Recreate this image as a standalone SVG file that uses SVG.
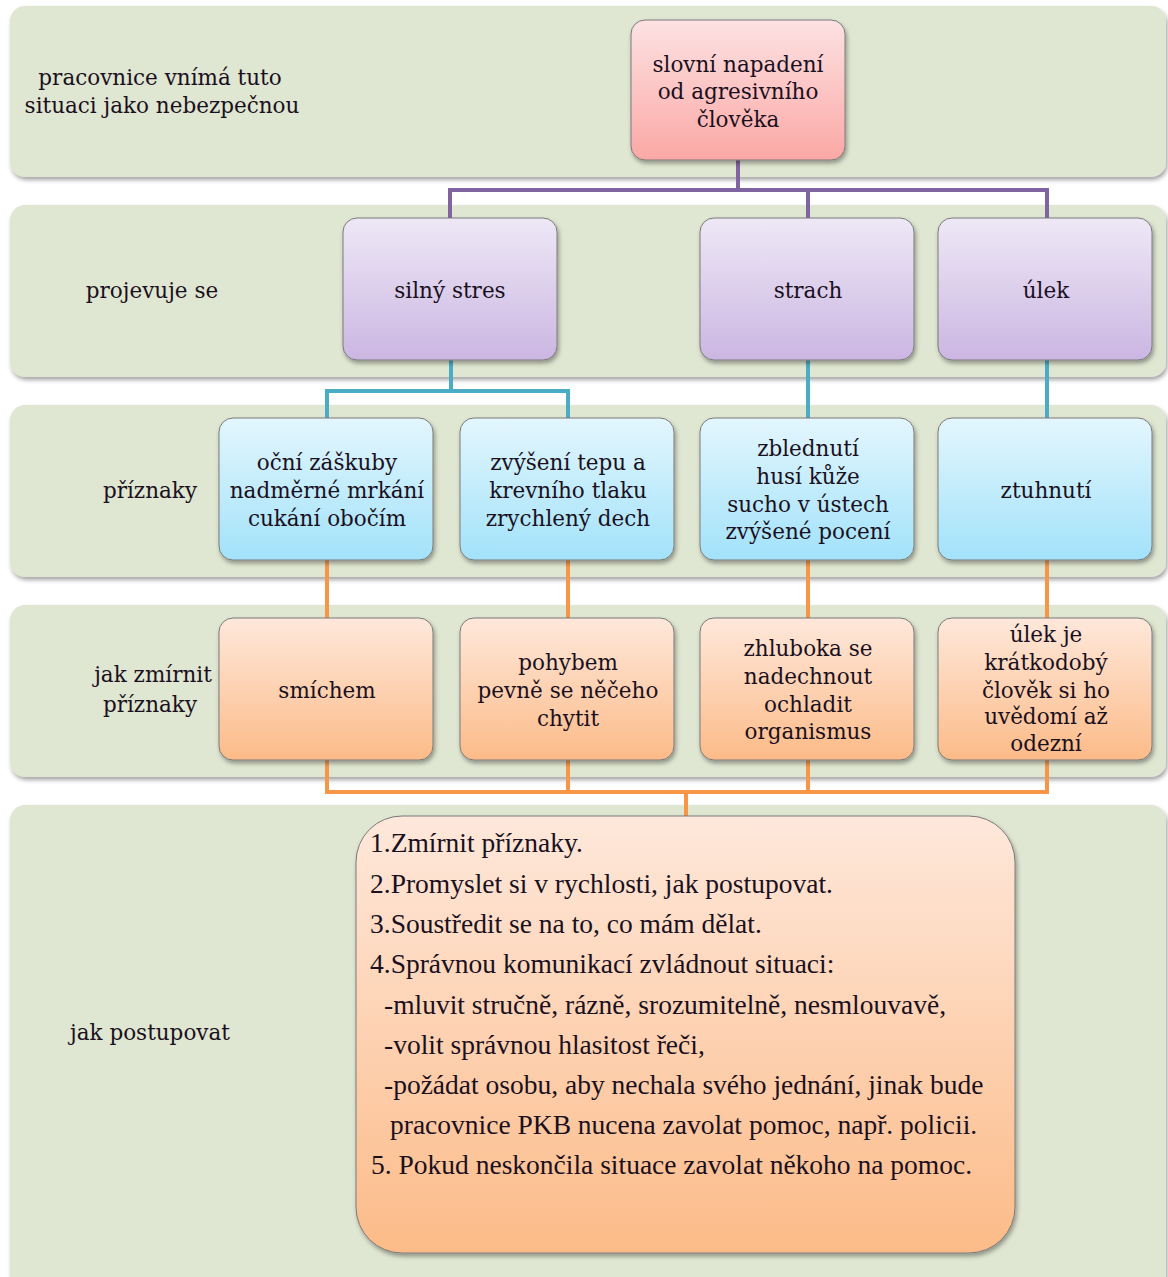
<svg xmlns="http://www.w3.org/2000/svg" width="1168" height="1277" viewBox="0 0 1168 1277">
  <defs>
    <linearGradient id="gRed" x1="0" y1="0" x2="0" y2="1">
      <stop offset="0" stop-color="#fde2e3"/>
      <stop offset="1" stop-color="#fba8a5"/>
    </linearGradient>
    <linearGradient id="gPurple" x1="0" y1="0" x2="0" y2="1">
      <stop offset="0" stop-color="#eee8f6"/>
      <stop offset="1" stop-color="#cbb6e2"/>
    </linearGradient>
    <linearGradient id="gBlue" x1="0" y1="0" x2="0" y2="1">
      <stop offset="0" stop-color="#e3f6fd"/>
      <stop offset="1" stop-color="#a2e2fa"/>
    </linearGradient>
    <linearGradient id="gOrange" x1="0" y1="0" x2="0" y2="1">
      <stop offset="0" stop-color="#fee8db"/>
      <stop offset="1" stop-color="#fcbb88"/>
    </linearGradient>
    <filter id="shadow" x="-10%" y="-10%" width="120%" height="130%">
      <feDropShadow dx="1.5" dy="3" stdDeviation="2" flood-color="#000" flood-opacity="0.35"/>
    </filter>
  </defs>
  <style>
    .band { fill: #dfe6d1; filter: url(#shadow); }
    .node { stroke: #7a7a7a; stroke-width: 1; filter: url(#shadow); }
    .lbl { font-family: "DejaVu Serif", "Liberation Serif", serif; font-size: 21.5px; fill: #1a1020; text-anchor: middle; }
    .body { font-family: "Liberation Serif", "Times New Roman", serif; font-size: 27.5px; fill: #1a1020; }
    .conn { fill: none; stroke-width: 4; stroke-linejoin: miter; }
  </style>

  <rect width="1168" height="1277" fill="#ffffff"/>

  <!-- horizontal bands -->
  <g id="bands">
    <rect class="band" x="10" y="6" width="1156" height="171" rx="15"/>
    <rect class="band" x="10" y="205" width="1156" height="172" rx="15"/>
    <rect class="band" x="10" y="405" width="1156" height="172" rx="15"/>
    <rect class="band" x="10" y="605" width="1156" height="172" rx="15"/>
    <rect class="band" x="10" y="805" width="1156" height="500" rx="15"/>
  </g>

  <!-- row labels -->
  <g id="row-labels">
    <text class="lbl" x="160" y="85">pracovnice vnímá tuto</text>
    <text class="lbl" x="162" y="113">situaci jako nebezpečnou</text>
    <text class="lbl" x="152" y="298">projevuje se</text>
    <text class="lbl" x="150" y="498">příznaky</text>
    <text class="lbl" x="153" y="682">jak zmírnit</text>
    <text class="lbl" x="150" y="712">příznaky</text>
    <text class="lbl" x="150" y="1040">jak postupovat</text>
  </g>

  <!-- connectors -->
  <g id="connectors">
    <path class="conn" stroke="#8064a2" d="M738 160 V190 M450 218 V190 H1047 V218 M808 190 V218"/>
    <path class="conn" stroke="#4bacc6" d="M451 360 V391 M327 418 V391 H568 V418 M808 360 V418 M1047 360 V418"/>
    <path class="conn" stroke="#f79646" d="M327 560 V618 M568 560 V618 M808 560 V618 M1047 560 V618"/>
    <path class="conn" stroke="#f79646" d="M327 760 V792 H1047 V760 M568 760 V792 M808 760 V792 M686 792 V816"/>
  </g>

  <!-- source node -->
  <g id="node-napadeni">
    <rect class="node" x="631" y="20" width="214" height="140" rx="14" fill="url(#gRed)"/>
    <text class="lbl" x="738" y="72">slovní napadení</text>
    <text class="lbl" x="738" y="99">od agresivního</text>
    <text class="lbl" x="738" y="127">člověka</text>
  </g>

  <!-- reactions -->
  <g id="node-stres">
    <rect class="node" x="343" y="218" width="214" height="142" rx="14" fill="url(#gPurple)"/>
    <text class="lbl" x="450" y="298">silný stres</text>
  </g>
  <g id="node-strach">
    <rect class="node" x="700" y="218" width="214" height="142" rx="14" fill="url(#gPurple)"/>
    <text class="lbl" x="808" y="298">strach</text>
  </g>
  <g id="node-ulek">
    <rect class="node" x="938" y="218" width="214" height="142" rx="14" fill="url(#gPurple)"/>
    <text class="lbl" x="1046" y="298">úlek</text>
  </g>

  <!-- symptoms -->
  <g id="node-zaskuby">
    <rect class="node" x="219" y="418" width="214" height="142" rx="14" fill="url(#gBlue)"/>
    <text class="lbl" x="327" y="470">oční záškuby</text>
    <text class="lbl" x="327" y="498">nadměrné mrkání</text>
    <text class="lbl" x="327" y="526">cukání obočím</text>
  </g>
  <g id="node-tep">
    <rect class="node" x="460" y="418" width="214" height="142" rx="14" fill="url(#gBlue)"/>
    <text class="lbl" x="568" y="470">zvýšení tepu a</text>
    <text class="lbl" x="568" y="498">krevního tlaku</text>
    <text class="lbl" x="568" y="526">zrychlený dech</text>
  </g>
  <g id="node-zblednuti">
    <rect class="node" x="700" y="418" width="214" height="142" rx="14" fill="url(#gBlue)"/>
    <text class="lbl" x="808" y="456">zblednutí</text>
    <text class="lbl" x="808" y="484">husí kůže</text>
    <text class="lbl" x="808" y="512">sucho v ústech</text>
    <text class="lbl" x="808" y="539">zvýšené pocení</text>
  </g>
  <g id="node-ztuhnuti">
    <rect class="node" x="938" y="418" width="214" height="142" rx="14" fill="url(#gBlue)"/>
    <text class="lbl" x="1046" y="498">ztuhnutí</text>
  </g>

  <!-- relief -->
  <g id="node-smichem">
    <rect class="node" x="219" y="618" width="214" height="142" rx="14" fill="url(#gOrange)"/>
    <text class="lbl" x="327" y="698">smíchem</text>
  </g>
  <g id="node-pohybem">
    <rect class="node" x="460" y="618" width="214" height="142" rx="14" fill="url(#gOrange)"/>
    <text class="lbl" x="568" y="670">pohybem</text>
    <text class="lbl" x="568" y="698">pevně se něčeho</text>
    <text class="lbl" x="568" y="726">chytit</text>
  </g>
  <g id="node-nadechnout">
    <rect class="node" x="700" y="618" width="214" height="142" rx="14" fill="url(#gOrange)"/>
    <text class="lbl" x="808" y="656">zhluboka se</text>
    <text class="lbl" x="808" y="684">nadechnout</text>
    <text class="lbl" x="808" y="712">ochladit</text>
    <text class="lbl" x="808" y="739">organismus</text>
  </g>
  <g id="node-kratkodoby">
    <rect class="node" x="938" y="618" width="214" height="142" rx="14" fill="url(#gOrange)"/>
    <text class="lbl" x="1046" y="642">úlek je</text>
    <text class="lbl" x="1046" y="670">krátkodobý</text>
    <text class="lbl" x="1046" y="698">člověk si ho</text>
    <text class="lbl" x="1046" y="724">uvědomí až</text>
    <text class="lbl" x="1046" y="751">odezní</text>
  </g>

  <!-- procedure -->
  <g id="node-postup">
    <rect class="node" x="356" y="816" width="659" height="437" rx="46" fill="url(#gOrange)"/>
    <text class="body" x="370" y="852">1.Zmírnit příznaky.</text>
    <text class="body" x="370" y="893">2.Promyslet si v rychlosti, jak postupovat.</text>
    <text class="body" x="370" y="933">3.Soustředit se na to, co mám dělat.</text>
    <text class="body" x="370" y="973">4.Správnou komunikací zvládnout situaci:</text>
    <text class="body" x="384" y="1014">-mluvit stručně, rázně, srozumitelně, nesmlouvavě,</text>
    <text class="body" x="384" y="1054">-volit správnou hlasitost řeči,</text>
    <text class="body" x="384" y="1094">-požádat osobu, aby nechala svého jednání, jinak bude</text>
    <text class="body" x="390" y="1134">pracovnice PKB nucena zavolat pomoc, např. policii.</text>
    <text class="body" x="371" y="1174">5. Pokud neskončila situace zavolat někoho na pomoc.</text>
  </g>
</svg>
